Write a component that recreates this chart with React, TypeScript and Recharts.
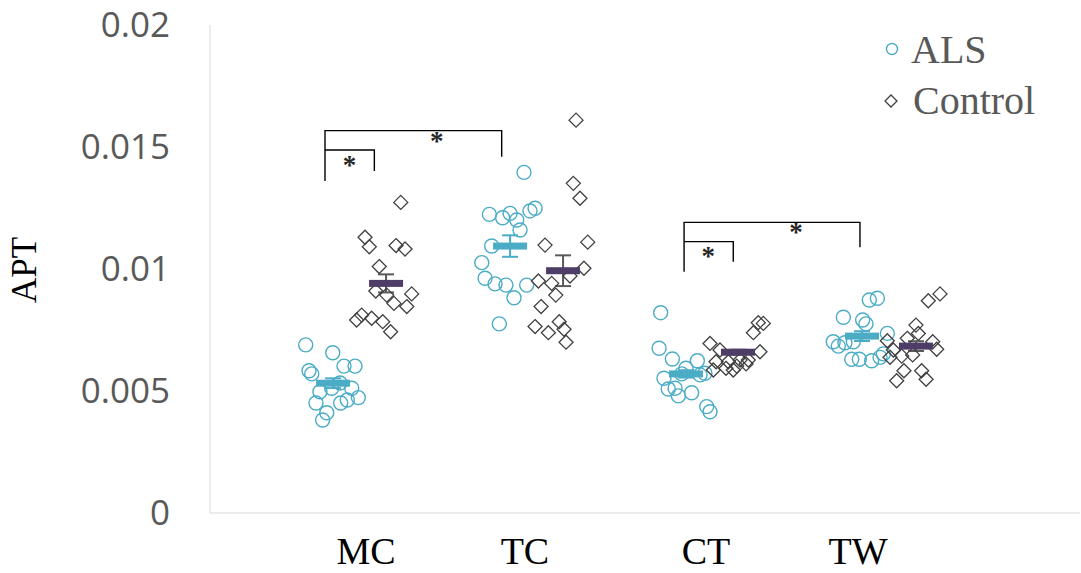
import React from "react";
import { ScatterChart, Scatter, XAxis, YAxis, ErrorBar } from "recharts";

// categories on the x axis (numeric positions, the groups are not evenly spaced)
const CATEGORIES = ["MC", "TC", "CT", "TW"];
const CATEGORY_POS = [0.986, 1.991, 3.136, 4.097];
const Y_TICKS = [0, 0.005, 0.01, 0.015, 0.02];

// individual subjects: [jittered x, APT]
const ALS_MC = [
  [0.605, 0.00689], [0.776, 0.00657], [0.847, 0.00602], [0.917, 0.00602],
  [0.626, 0.00583], [0.643, 0.0057], [0.896, 0.00511], [0.769, 0.00511],
  [0.695, 0.00497], [0.822, 0.00533], [0.938, 0.00473], [0.868, 0.00463],
  [0.826, 0.00451], [0.67, 0.00451], [0.738, 0.00411], [0.712, 0.00381],
];
const ALS_TC = [
  [1.985, 0.01396], [1.766, 0.01224], [1.85, 0.0121], [1.897, 0.01228],
  [1.939, 0.01201], [2.023, 0.01238], [2.055, 0.01249], [1.96, 0.0116],
  [1.781, 0.01094], [1.718, 0.01026], [1.739, 0.00962], [1.802, 0.00939],
  [1.871, 0.00934], [2.002, 0.00934], [1.922, 0.00882], [1.829, 0.00775],
];
const ALS_CT = [
  [2.849, 0.00821], [2.839, 0.00675], [2.923, 0.00631], [3.081, 0.00624],
  [3.009, 0.00593], [2.87, 0.00552], [3.129, 0.00573], [3.098, 0.00566],
  [2.982, 0.0057], [2.897, 0.00508], [2.94, 0.00511], [2.961, 0.0048],
  [3.045, 0.00493], [3.14, 0.00436], [3.161, 0.00415],
];
const ALS_TW = [
  [4.168, 0.00873], [4.219, 0.0088], [4.004, 0.00802], [4.126, 0.00791],
  [4.147, 0.00775], [4.282, 0.00736], [3.94, 0.00702], [3.972, 0.00684],
  [4.014, 0.00698], [4.067, 0.00702], [4.057, 0.0063], [4.105, 0.0063],
  [4.183, 0.00624], [4.236, 0.00638], [4.257, 0.00652],
];
const CTRL_MC = [
  [1.206, 0.01273], [0.98, 0.0113], [1.007, 0.01091], [1.176, 0.01096],
  [1.233, 0.01082], [1.07, 0.0101], [1.048, 0.0091], [1.117, 0.00893],
  [1.275, 0.00898], [1.163, 0.00859], [1.244, 0.00846], [0.959, 0.00811],
  [0.927, 0.00791], [1.022, 0.00798], [1.092, 0.00784], [1.142, 0.00743],
];
const CTRL_TC = [
  [2.314, 0.0161], [2.297, 0.01351], [2.339, 0.0129], [2.118, 0.01098],
  [2.388, 0.0111], [2.364, 0.01003], [2.276, 0.00971], [2.076, 0.00951],
  [2.16, 0.00941], [2.186, 0.00893], [2.093, 0.00846], [2.055, 0.00764],
  [2.139, 0.00739], [2.208, 0.00784], [2.238, 0.00753], [2.251, 0.007],
];
const CTRL_CT = [
  [3.466, 0.0078], [3.498, 0.00777], [3.435, 0.00739], [3.161, 0.00695],
  [3.477, 0.00661], [3.224, 0.00668], [3.199, 0.0062], [3.277, 0.0062],
  [3.351, 0.00627], [3.403, 0.00627], [3.182, 0.00586], [3.262, 0.00593],
  [3.33, 0.00602], [3.389, 0.00611], [3.308, 0.00586],
];
const CTRL_TW = [
  [4.541, 0.0087], [4.615, 0.00898], [4.463, 0.0077], [4.478, 0.00736],
  [4.408, 0.00716], [4.282, 0.00706], [4.569, 0.00702], [4.594, 0.00671],
  [4.32, 0.00668], [4.373, 0.00643], [4.442, 0.00648], [4.299, 0.00638],
  [4.387, 0.00583], [4.341, 0.00542], [4.499, 0.00583], [4.527, 0.00548],
];

// group means and standard errors
const ALS_MEAN_X = [0.778, 1.897, 3.009, 4.122];
const ALS_MEAN = [0.00532, 0.01094, 0.0057, 0.00725];
const ALS_SE = [0.0002, 0.00044, 0.00015, 0.0002];
const CTRL_MEAN_X = [1.113, 2.232, 3.338, 4.463];
const CTRL_MEAN = [0.00941, 0.00993, 0.00659, 0.00684];
const CTRL_SE = [0.00037, 0.00063, 0.0001, 0.0002];

// significance brackets and asterisks
const BRACKETS = [
  [[0.727, 0.01361], [0.727, 0.01567], [1.844, 0.01567], [1.844, 0.0146]],
  [[0.727, 0.01488], [1.039, 0.01488], [1.039, 0.01402]],
  [[2.997, 0.00989], [2.997, 0.01191], [4.109, 0.01191], [4.109, 0.01089]],
  [[2.997, 0.01112], [3.308, 0.01112], [3.308, 0.0103]],
];
const STAR_X = [0.882, 1.433, 3.15, 3.705];
const STAR_Y = [0.0144, 0.01536, 0.01067, 0.01163];

const TEAL = "#4bacc6";
const PURPLE = "#4e3d66";
const GRAY = "#595959";
const SERIF = "'Liberation Serif', 'Times New Roman', serif";

const toPts = (arr: number[][]) => arr.map(([x, y]) => ({ x, y }));
const alsPoints = toPts([...ALS_MC, ...ALS_TC, ...ALS_CT, ...ALS_TW]);
const ctrlPoints = toPts([...CTRL_MC, ...CTRL_TC, ...CTRL_CT, ...CTRL_TW]);
const alsMeans = ALS_MEAN.map((y, i) => ({ x: ALS_MEAN_X[i], y, err: ALS_SE[i] }));
const ctrlMeans = CTRL_MEAN.map((y, i) => ({ x: CTRL_MEAN_X[i], y, err: CTRL_SE[i] }));
const stars = STAR_X.map((x, i) => ({ x, y: STAR_Y[i] }));

const Circle = (p: any) => (
  <circle cx={p.cx} cy={p.cy} r={7} fill="none" stroke={TEAL} strokeWidth={1.4} />
);
const Diamond = (p: any) => (
  <path
    d={`M${p.cx},${p.cy - 7}L${p.cx + 7},${p.cy}L${p.cx},${p.cy + 7}L${p.cx - 7},${p.cy}Z`}
    fill="none" stroke="#404040" strokeWidth={1.3}
  />
);
const meanBar = (color: string) => (p: any) => (
  <rect x={p.cx - 17} y={p.cy - 3.5} width={34} height={7} fill={color} />
);
const Nothing = () => <g />;
const Star = (p: any) => (
  <text x={p.cx} y={p.cy + 12} textAnchor="middle" fontSize={27}
    fontFamily={SERIF} fontWeight="bold" fill="#262626">*</text>
);

export default function App() {
  return (
    <div style={{ position: "absolute", left: 0, top: 0, width: 1081, height: 573, background: "#fff" }}>
      <ScatterChart width={1081} height={573} margin={{ top: 25, right: 1, bottom: 0, left: 0 }}>
        <XAxis type="number" dataKey="x" domain={[0, 5.5]} ticks={CATEGORY_POS} interval={0}
          height={60} axisLine={{ stroke: "#d9d9d9" }} tickLine={false} tickSize={0} tickMargin={24}
          tickFormatter={(v: number) => CATEGORIES[CATEGORY_POS.indexOf(v)] ?? ""}
          tick={{ fontSize: 38, fill: "#000", fontFamily: SERIF }} />
        <YAxis type="number" dataKey="y" domain={[0, 0.02]} ticks={Y_TICKS} interval={0}
          width={210} axisLine={{ stroke: "#d9d9d9" }} tickLine={false} tickSize={0} tickMargin={40}
          tickFormatter={(v: number) => String(v)}
          tick={{ fontSize: 35, fill: GRAY, fontFamily: "'Open Sans', sans-serif" }} />

        {BRACKETS.map((b, i) => (
          <Scatter key={i} data={toPts(b)} line={{ stroke: "#000", strokeWidth: 1.4 }}
            lineType="joint" shape={Nothing} isAnimationActive={false} />
        ))}
        <Scatter data={stars} shape={Star} isAnimationActive={false} />

        <Scatter name="ALS" data={alsPoints} shape={Circle} isAnimationActive={false} />
        <Scatter name="Control" data={ctrlPoints} shape={Diamond} isAnimationActive={false} />

        <Scatter data={alsMeans} shape={meanBar(TEAL)} isAnimationActive={false} />
        <Scatter data={ctrlMeans} shape={meanBar(PURPLE)} isAnimationActive={false} />
        <Scatter data={alsMeans} shape={Nothing} isAnimationActive={false}>
          <ErrorBar dataKey="err" direction="y" width={8} stroke={TEAL} strokeWidth={2} />
        </Scatter>
        <Scatter data={ctrlMeans} shape={Nothing} isAnimationActive={false}>
          <ErrorBar dataKey="err" direction="y" width={8} stroke={GRAY} strokeWidth={2} />
        </Scatter>
      </ScatterChart>

      <svg width={1081} height={573} style={{ position: "absolute", left: 0, top: 0, pointerEvents: "none" }}>
        <text x={36} y={270} transform="rotate(-90 36 270)" textAnchor="middle"
          fontSize={35} fontFamily={SERIF} fill="#000">APT</text>
        <circle cx={892} cy={49} r={5.5} fill="none" stroke={TEAL} strokeWidth={1.4} />
        <text x={911} y={63} fontSize={40} fontFamily={SERIF} fill={GRAY}>ALS</text>
        <path d="M891,95L897,101L891,107L885,101Z" fill="none" stroke="#404040" strokeWidth={1.3} />
        <text x={913} y={114} fontSize={40} fontFamily={SERIF} fill={GRAY}>Control</text>
      </svg>
    </div>
  );
}
